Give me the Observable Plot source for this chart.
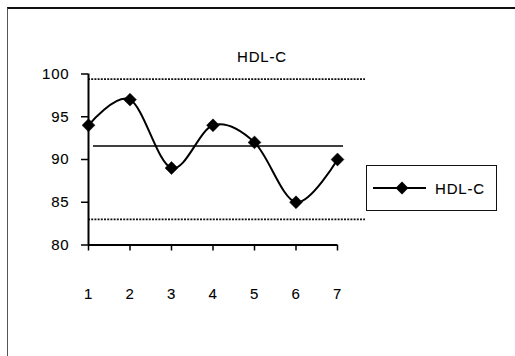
<!DOCTYPE html>
<html>
<head>
<meta charset="utf-8">
<script src="https://cdn.jsdelivr.net/npm/d3@7"></script>
<script src="https://cdn.jsdelivr.net/npm/@observablehq/plot@0.6"></script>
<style>
  html, body { margin: 0; padding: 0; background: #fff; }
  #wrap { position: relative; width: 515px; height: 356px; overflow: hidden; background: #fff;
          font-family: "Liberation Sans", Arial, sans-serif; }
  #border { position: absolute; left: 7px; top: 7px; width: 600px; height: 400px;
            border-top: 2px solid #111; border-left: 1px solid #555; }
  #chart { position: absolute; left: 0; top: 0; }
  #title { position: absolute; left: 212px; width: 100px; top: 49px; text-align: center;
           font-size: 15px; letter-spacing: 0.8px; line-height: 15px; color: #000;
           -webkit-text-stroke: 0.1px #000; }
  #legend { position: absolute; left: 366px; top: 165px; width: 131px; height: 46px;
            border: 1.5px solid #111; box-sizing: border-box; }
  #legend svg { position: absolute; left: 0; top: 0; }
  #legend span { position: absolute; left: 68px; top: 15px; font-size: 15px; letter-spacing: 0.8px;
                 line-height: 15px; color: #000; -webkit-text-stroke: 0.1px #000; }
  #chart text { stroke: #000; stroke-width: 0.1px; }
</style>
</head>
<body>
<div id="wrap">
  <div id="border"></div>
  <div id="chart"></div>
  <div id="title"></div>
  <div id="legend"></div>
</div>
<script>
// HDL-C measurements over seven visits, with mean and control limits
const seriesName = "HDL-C";
const visits = [1, 2, 3, 4, 5, 6, 7];
const hdl = [94, 97, 89, 94, 92, 85, 90];
const upperLimit = [99.4];
const lowerLimit = [83.0];
const yTicks = [80, 85, 90, 95, 100];
const xTicks = [1, 2, 3, 4, 5, 6, 7];

const points = visits.map((v, i) => ({visit: v, value: hdl[i]}));
const mean = d3.mean(hdl);
const yMin = d3.min(yTicks), yMax = d3.max(yTicks);
const xMin = d3.min(xTicks), xMax = d3.max(xTicks);

const font = "15px";

const chart = Plot.plot({
  width: 515,
  height: 356,
  marginLeft: 88,
  marginRight: 150,
  marginTop: 73.5,
  marginBottom: 111.5,
  style: {fontFamily: "'Liberation Sans', Arial, sans-serif", fontSize: font, background: "transparent", color: "#000", letterSpacing: "0.8px"},
  x: {type: "linear", domain: [xMin, xMax], range: [88, 337]},
  y: {type: "linear", domain: [yMin, yMax], range: [244.5, 73.5]},
  marks: [
    // control limits (dotted) across the plot area
    Plot.ruleY(upperLimit, {stroke: "#111", strokeWidth: 1.6, strokeDasharray: "2,1.2"}),
    Plot.ruleY(lowerLimit, {stroke: "#111", strokeWidth: 1.6, strokeDasharray: "2,1.2"}),
    // mean line
    Plot.ruleY([mean], {stroke: "#000", strokeWidth: 1.6, insetLeft: 5, insetRight: 22}),
    // axis lines
    Plot.ruleX([xMin], {y1: yMin, y2: yMax, stroke: "#000", strokeWidth: 2}),
    Plot.ruleY([yMin], {x1: xMin, x2: xMax, stroke: "#000", strokeWidth: 2}),
    Plot.axisY({ticks: yTicks, tickSize: 7, tickPadding: 12, label: null, stroke: "#000", strokeWidth: 1.5, fontSize: font}),
    Plot.axisX({ticks: xTicks, tickSize: 6, tickPadding: 37, label: null, stroke: "#000", strokeWidth: 1.5, fontSize: font, tickFormat: d3.format("d")}),
    // smoothed series with diamond markers
    Plot.line(points, {x: "visit", y: "value", curve: "cardinal", stroke: "#000", strokeWidth: 2}),
    Plot.dot(points, {x: "visit", y: "value", symbol: "diamond2", r: 5.8, fill: "#000", stroke: "#000", strokeWidth: 0.5})
  ]
});
document.getElementById("chart").appendChild(chart);
document.getElementById("title").textContent = seriesName;

// legend entry: line with diamond marker, then the series name
const legend = document.getElementById("legend");
const ls = d3.create("svg").attr("width", 131).attr("height", 46);
ls.append("line").attr("x1", 6).attr("x2", 59).attr("y1", 22).attr("y2", 22)
  .attr("stroke", "#000").attr("stroke-width", 2);
ls.append("path").attr("d", d3.symbol(d3.symbolDiamond2, Math.PI * 5.8 * 5.8)())
  .attr("transform", "translate(35,22)").attr("fill", "#000");
legend.appendChild(ls.node());
const lt = document.createElement("span");
lt.textContent = seriesName;
legend.appendChild(lt);
</script>
</body>
</html>
